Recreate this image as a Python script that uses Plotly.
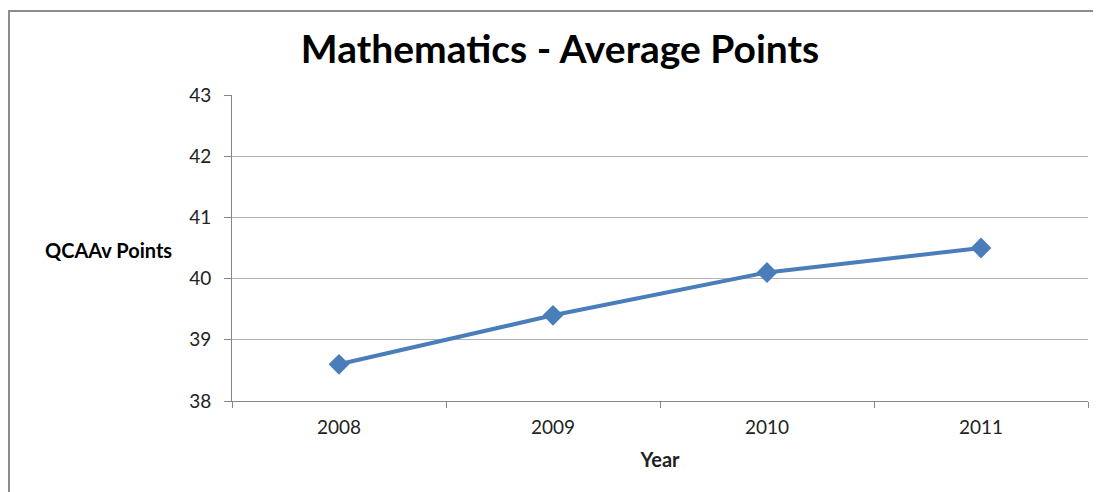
import plotly.graph_objects as go

years = ["2008", "2009", "2010", "2011"]
avg_points = [38.6, 39.4, 40.1, 40.5]

# page body has an 8px margin, so work in screenshot pixels and shift
OFF = 8
W, H = 1101 - OFF, 492 - OFF
L, R, T, B = 232 - OFF, 1101 - 1088, 95 - OFF, 492 - 401
pw, ph = W - L - R, H - T - B


def px_x(p):
    return (p - OFF - L) / pw


def px_y(p):
    return (H - B - (p - OFF)) / ph


fig = go.Figure()
fig.add_trace(go.Scatter(
    x=years, y=avg_points,
    mode="lines+markers",
    line=dict(color="#4a7ebb", width=4),
    marker=dict(symbol="diamond", size=16, color="#4a7ebb"),
    showlegend=False,
))

axis_grey = "#868686"
fig.update_layout(
    width=W, height=H,
    margin=dict(l=L, r=R, t=T, b=B),
    paper_bgcolor="white", plot_bgcolor="white",
    font=dict(family="Lato, Calibri, sans-serif", color="#222222", size=19),
    title=dict(text="<b>Mathematics - Average Points</b>", x=px_x(560), xref="paper",
               xanchor="center", y=1 - (49 - OFF) / H, yanchor="middle",
               font=dict(size=39, color="black")),
    xaxis=dict(type="category", range=[-0.5, 3.5], tickson="boundaries",
               ticks="outside", ticklen=6, tickcolor=axis_grey,
               showline=True, linecolor=axis_grey, linewidth=1,
               showgrid=False, tickfont=dict(size=19), ticklabelstandoff=9,
               title=dict(text="<b>Year</b>", font=dict(size=20), standoff=16)),
    yaxis=dict(range=[38, 43], dtick=1, ticks="outside", ticklen=7, tickcolor=axis_grey,
               showline=True, linecolor=axis_grey, linewidth=1,
               gridcolor="#b3b3b3", gridwidth=1, zeroline=False,
               tickfont=dict(size=19), ticklabelstandoff=9),
    annotations=[dict(text="<b>QCAAv Points</b>", xref="paper", yref="paper",
                      x=px_x(43), y=px_y(250), xanchor="left", yanchor="middle",
                      showarrow=False, font=dict(size=20, color="black"))],
    shapes=[dict(type="rect", xref="paper", yref="paper",
                 x0=px_x(9), x1=px_x(1110), y0=px_y(520), y1=px_y(11),
                 line=dict(color="#8c8c8c", width=2), layer="below")],
)

fig.write_html("out.html")
